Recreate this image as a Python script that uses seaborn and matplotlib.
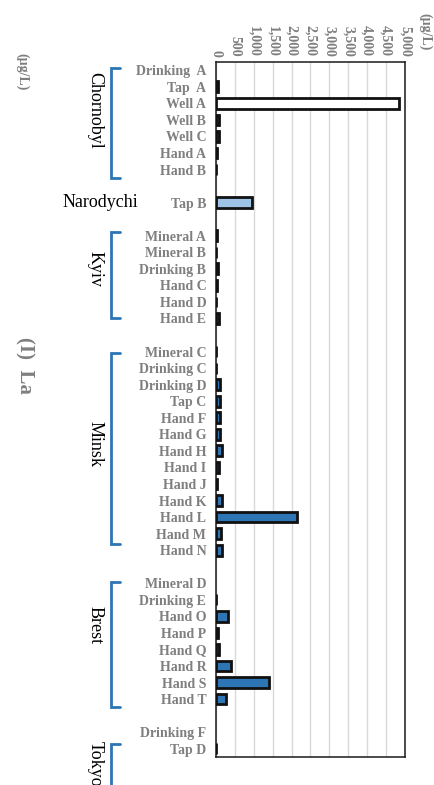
import numpy as np
import pandas as pd
import matplotlib
matplotlib.use("Agg")
import matplotlib.pyplot as plt
import matplotlib.transforms as mtransforms
import seaborn as sns

# data (La, ug/L); blank labels are spacer rows between regions
samples = ["Drinking  A", "Tap  A", "Well A", "Well B", "Well C", "Hand A", "Hand B",
           " ", "Tap B", "  ",
           "Mineral A", "Mineral B", "Drinking B", "Hand C", "Hand D", "Hand E",
           "   ",
           "Mineral C", "Drinking C", "Drinking D", "Tap C", "Hand F", "Hand G", "Hand H",
           "Hand I", "Hand J", "Hand K", "Hand L", "Hand M", "Hand N",
           "    ",
           "Mineral D", "Drinking E", "Hand O", "Hand P", "Hand Q", "Hand R", "Hand S", "Hand T",
           "     ",
           "Drinking F", "Tap D"]
values = [0, 40, 4850, 70, 70, 35, 5,
          0, 950, 0,
          20, 5, 40, 30, 5, 70,
          0,
          10, 10, 110, 100, 100, 110, 150, 90, 30, 170, 2140, 130, 160,
          0,
          0, 10, 320, 60, 90, 400, 1400, 260,
          0,
          0, 10]
ticks = [0, 500, 1000, 1500, 2000, 2500, 3000, 3500, 4000, 4500, 5000]
groups = ["Chornobyl", "Kyiv", "Minsk", "Brest", "Tokyo"]
group_span = [(-0.12, 6.5), (9.77, 14.96), (17.07, 28.65), (30.94, 38.48), (40.7, 43.5)]
group_mid = [2.4, 12.0, 22.6, 33.5, 41.9]

palette = {s: "#2e75b6" for s in samples}
palette["Well A"] = "white"
palette["Tap B"] = "#9dc3e6"

df = pd.DataFrame({"sample": samples, "value": values})

sns.set_style("white")
plt.rcParams["font.family"] = ["Liberation Serif", "DejaVu Serif"]

fig = plt.figure(figsize=(4.35, 7.85), dpi=100)
ax = fig.add_axes([216 / 435, 1 - 757 / 785, 189 / 435, 695 / 785])

sns.barplot(data=df, x="value", y="sample", hue="sample", palette=palette, legend=False,
            orient="h", width=0.65, saturation=1, edgecolor="#111111", linewidth=2,
            ax=ax, zorder=3)
# empty rows: no outline
for p in ax.patches:
    if p.get_width() == 0:
        p.set_linewidth(0)

ax.set_xlim(0, 5000)
ax.set_ylim(41.5, -0.5)
ax.set_xticks(ticks)
ax.set_xticklabels([f"{t:,}" for t in ticks])
ax.xaxis.tick_top()
ax.tick_params(axis="x", length=0, pad=4, labelsize=10, labelcolor="#7f7f7f")
for lab in ax.get_xticklabels():
    lab.set_rotation(-90)
    lab.set_va("bottom")
    lab.set_ha("center")
    lab.set_fontweight("bold")
ax.tick_params(axis="y", length=0, pad=7, labelsize=10, labelcolor="#7f7f7f")
for lab in ax.get_yticklabels():
    lab.set_fontweight("bold")
ax.set_xlabel("")
ax.set_ylabel("")
ax.grid(axis="x", color="#d9d9d9", linewidth=1, zorder=0)
for sp in ax.spines.values():
    sp.set_visible(True)
    sp.set_color("#1a1a1a")
    sp.set_linewidth(1.1)

# region brackets
tr = mtransforms.blended_transform_factory(ax.transAxes, ax.transData)
xb, xt = (111 - 216) / 189, (120 - 216) / 189
for name, (y0, y1), ym in zip(groups, group_span, group_mid):
    ax.plot([xt, xb, xb, xt], [y0, y0, y1, y1], transform=tr, color="#2e75b6",
            linewidth=2, clip_on=False, solid_joinstyle="miter")
    ax.text((95 - 216) / 189, ym, name, transform=tr, rotation=-90, ha="center",
            va="center", fontsize=13, color="black", clip_on=False)
ax.text((100 - 216) / 189, 8, "Narodychi", transform=tr, ha="center", va="center",
        fontsize=13, color="black")

fig.text(25 / 435, 1 - 365 / 785, "(I)  La", rotation=-90, ha="center", va="center",
         fontsize=15, fontweight="bold", color="#7f7f7f")
fig.text(22 / 435, 1 - 72 / 785, "(\u00b5g/L)", rotation=-90, ha="center", va="center",
         fontsize=10, fontweight="bold", color="#7f7f7f")
fig.text(425 / 435, 1 - 32 / 785, "(\u00b5g/L)", rotation=-90, ha="center", va="center",
         fontsize=10, fontweight="bold", color="#7f7f7f")

fig.savefig("out.png", dpi=100)
